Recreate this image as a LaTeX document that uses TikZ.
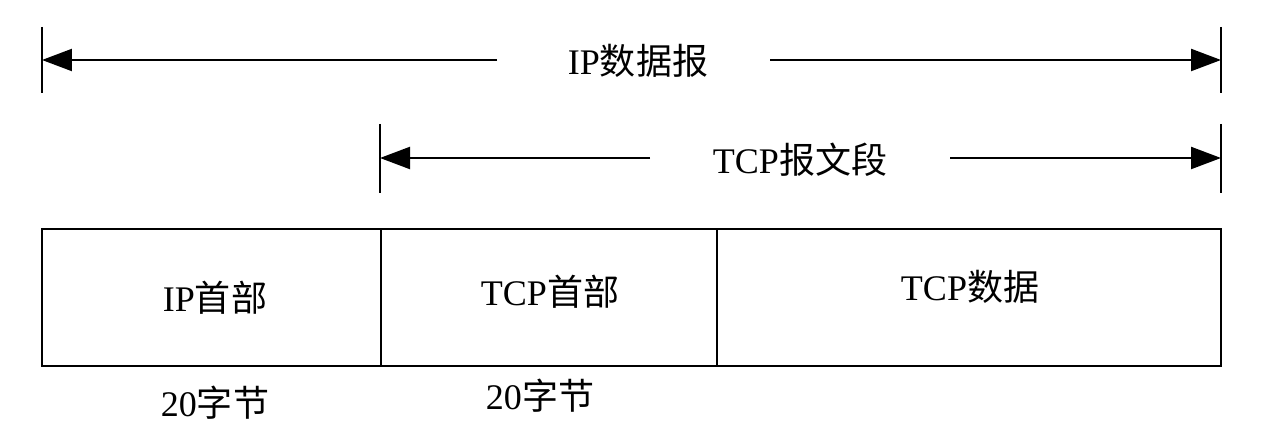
\documentclass[tikz,border=0pt]{standalone}
\usepackage{fontspec}
\setmainfont{Liberation Serif}
\newfontfamily\cjk{Noto Sans CJK SC}
\usetikzlibrary{arrows.meta}
\tikzset{
  dim/.style={line width=0.045cm,-{Triangle[length=0.6cm,width=0.44cm]}},
  tick/.style={line width=0.045cm},
  lab/.style={font=\fontsize{20.5}{24}\selectfont, inner sep=0pt},
  cell/.style={draw, line width=0.045cm, minimum height=2.74cm, inner sep=0pt},
  celltext/.style={font=\fontsize{20.5}{24}\selectfont, inner sep=0pt},
}
\begin{document}
\begin{tikzpicture}[x=0.02cm,y=-0.02cm]
\useasboundingbox (0,0) rectangle (1266,448);
% IP datagram dimension
\coordinate (ipLt) at (42,27); \coordinate (ipLb) at (42,93);
\coordinate (ipRt) at (1221,27); \coordinate (ipRb) at (1221,93);
\coordinate (ipL) at (42,60); \coordinate (ipR) at (1221,60);
\coordinate (ipA) at (497,60); \coordinate (ipB) at (770,60);
\node[lab] (iplab) at (638,61) {IP{\cjk 数据报}};
\draw[tick] (ipLt) -- (ipLb);
\draw[tick] (ipRt) -- (ipRb);
\draw[dim] (ipA) -- (ipL);
\draw[dim] (ipB) -- (ipR);
% TCP segment dimension
\coordinate (tcLt) at (380,124); \coordinate (tcLb) at (380,193);
\coordinate (tcRt) at (1221,124); \coordinate (tcRb) at (1221,193);
\coordinate (tcL) at (380,158); \coordinate (tcR) at (1221,158);
\coordinate (tcA) at (650,158); \coordinate (tcB) at (950,158);
\node[lab] (tclab) at (800,160) {TCP{\cjk 报文段}};
\draw[tick] (tcLt) -- (tcLb);
\draw[tick] (tcRt) -- (tcRb);
\draw[dim] (tcA) -- (tcL);
\draw[dim] (tcB) -- (tcR);
% Boxes
\node[cell, minimum width=6.78cm] (iph) at (211.5,297.5) {};
\node[cell, minimum width=6.72cm] (tch) at (549,297.5) {};
\node[cell, minimum width=10.08cm] (tcd) at (969,297.5) {};
\node[celltext] (iphl) at (215,298) {IP{\cjk 首部}};
\node[celltext] (tchl) at (550,292) {TCP{\cjk 首部}};
\node[celltext] (tcdl) at (970,287) {TCP{\cjk 数据}};
% Sizes
\node[lab] (s1) at (215,403) {20{\cjk 字节}};
\node[lab] (s2) at (540,396) {20{\cjk 字节}};
\end{tikzpicture}
\end{document}
